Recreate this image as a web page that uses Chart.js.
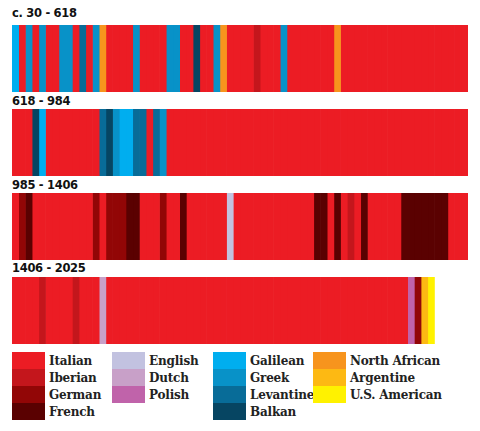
<!DOCTYPE html>
<html>
<head>
<meta charset="utf-8">
<script src="https://cdn.jsdelivr.net/npm/chart.js@4"></script>
<style>
  body { margin: 0; background: #fff; width: 480px; height: 431px; position: relative; overflow: hidden; }
  .title { position: absolute; left: 12px; font: bold 11.5px "DejaVu Sans", sans-serif; color: #111; letter-spacing: -0.3px; }
  .strip { position: absolute; left: 12px; width: 456px; height: 67px; }
  .leg { position: absolute; display: flex; align-items: center; font: bold 12px "DejaVu Serif", serif; color: #222; letter-spacing: -0.2px; }
  .leg span.sw { display: inline-block; width: 33px; height: 17px; margin-right: 4px; }
</style>
</head>
<body>
<div id="root"></div>
<script>
const CELLS_PER_ROW = 68;

const periods = ['c. 30 - 618', '618 - 984', '985 - 1406', '1406 - 2025'];

const origins = ['Italian', 'Iberian', 'German', 'French', 'English', 'Dutch', 'Polish',
  'Galilean', 'Greek', 'Levantine', 'Balkan', 'North African', 'Argentine', 'U.S. American'];

const originColors = ['#ec1c24', '#c4161c', '#920606', '#5a0101', '#c2c2e0', '#c8a0c8', '#c063aa',
  '#00aeef', '#0892c8', '#086c98', '#064562', '#f7941d', '#fdb913', '#fff200'];

// runs of [origin, number of popes], read left to right
const row1 = [['Galilean',1],['Italian',1],['Greek',1],['Italian',1],['Greek',1],['Italian',2],['Greek',2],
  ['Italian',1],['Levantine',1],['Italian',1],['Greek',1],['North African',1],['Italian',4],['Greek',1],
  ['Italian',4],['Greek',2],['Italian',2],['Balkan',1],['Italian',2],['Greek',1],['North African',1],
  ['Italian',4],['Iberian',1],['Italian',3],['Greek',1],['Italian',7],['North African',1],['Italian',19]];
const row2 = [['Italian',3],['Balkan',1],['Galilean',1],['Italian',8],['Levantine',1],['Balkan',1],['Greek',1],
  ['Galilean',2],['Levantine',2],['Italian',1],['Levantine',1],['Greek',1],['Italian',45]];
const row3 = [['Italian',1],['German',1],['French',1],['Italian',9],['German',1],['Italian',1],['German',3],
  ['French',2],['Italian',3],['German',1],['Italian',2],['French',1],['Italian',6],['English',1],['Italian',12],
  ['French',2],['Italian',1],['French',1],['Italian',1],['Iberian',1],['Italian',1],['French',1],['Italian',5],
  ['French',7],['Italian',3]];
const row4 = [['Italian',4],['Iberian',1],['Italian',4],['Iberian',1],['Italian',3],['Dutch',1],['Italian',45],
  ['Polish',1],['German',1],['Argentine',1],['U.S. American',1]];

const rows = [row1, row2, row3, row4];
const stripTops = [25, 109, 193, 277];
const titleTops = [6, 94, 178, 261];

const colorOf = name => originColors[origins.indexOf(name)];
const expand = runs => runs.flatMap(([o, n]) => Array(n).fill(o));

const root = document.getElementById('root');
rows.forEach((runs, r) => {
  const t = document.createElement('div');
  t.className = 'title';
  t.style.top = titleTops[r] + 'px';
  t.textContent = periods[r];
  root.appendChild(t);

  const box = document.createElement('div');
  box.className = 'strip';
  box.style.top = stripTops[r] + 'px';
  const cv = document.createElement('canvas');
  box.appendChild(cv);
  root.appendChild(box);

  const seq = expand(runs);
  new Chart(cv, {
    type: 'bar',
    data: {
      labels: [periods[r]],
      datasets: seq.map(o => ({
        label: o,
        data: [1],
        backgroundColor: colorOf(o),
        borderWidth: 0,
        barPercentage: 1,
        categoryPercentage: 1
      }))
    },
    options: {
      indexAxis: 'y',
      responsive: true,
      maintainAspectRatio: false,
      animation: false,
      plugins: { legend: { display: false }, tooltip: { enabled: false } },
      layout: { padding: 0 },
      scales: {
        x: { stacked: true, min: 0, max: CELLS_PER_ROW, display: false },
        y: { stacked: true, display: false }
      }
    }
  });
});

// legend, four columns
const legendCols = [['Italian','Iberian','German','French'], ['English','Dutch','Polish'],
  ['Galilean','Greek','Levantine','Balkan'], ['North African','Argentine','U.S. American']];
const colX = [12, 112, 213, 313];
legendCols.forEach((col, c) => {
  col.forEach((name, i) => {
    const d = document.createElement('div');
    d.className = 'leg';
    d.style.left = colX[c] + 'px';
    d.style.top = (352 + i * 17) + 'px';
    d.innerHTML = '<span class="sw" style="background:' + colorOf(name) + '"></span>' + name;
    root.appendChild(d);
  });
});
</script>
</body>
</html>
